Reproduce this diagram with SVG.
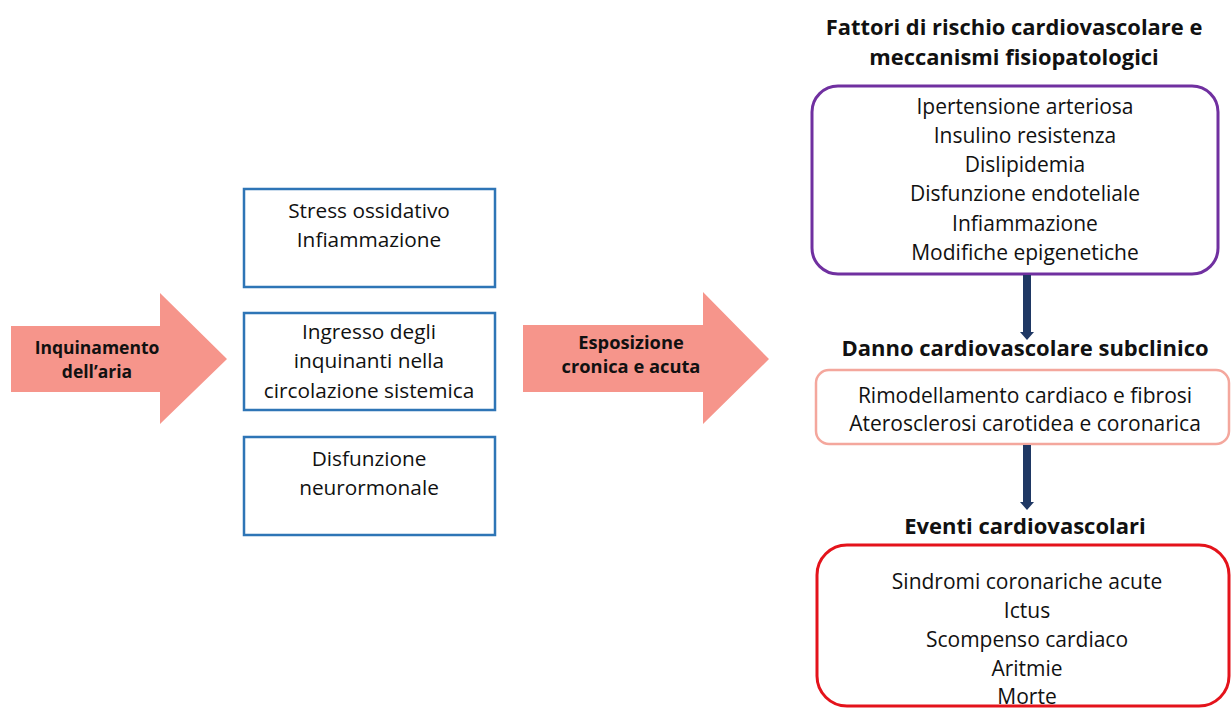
<svg xmlns="http://www.w3.org/2000/svg" width="1231" height="710" viewBox="0 0 1231 710">
<style>
text{font-family:"Open Sans","Noto Sans",sans-serif;fill:#111;text-anchor:middle}
.t{font-size:20.8px}
.tr{font-size:21px}
.b{font-weight:bold}
.bigarrow{fill:#F6958B}
.blue{fill:#fff;stroke:#2E75B6;stroke-width:2.5}
.conn{stroke:#1F3864;stroke-width:8;fill:none}
.head{fill:#1F3864}
</style>
<rect width="1231" height="710" fill="#fff"/>
<g id="arrow-inquinamento">
<polygon class="bigarrow" points="11,326 160,326 160,293 227,359 160,424 160,392 11,392"/>
<text class="b" x="97" y="354" font-size="17.5">Inquinamento</text>
<text class="b" x="97" y="378" font-size="17.5">dell’aria</text>
</g>
<g id="box-stress">
<rect class="blue" x="244" y="189" width="251" height="98"/>
<text class="t" x="369" y="218">Stress ossidativo</text>
<text class="t" x="369" y="247">Infiammazione</text>
</g>
<g id="box-ingresso">
<rect class="blue" x="244" y="313" width="251" height="97"/>
<text class="t" x="369" y="339">Ingresso degli</text>
<text class="t" x="369" y="368">inquinanti nella</text>
<text class="t" x="369" y="398">circolazione sistemica</text>
</g>
<g id="box-disfunzione">
<rect class="blue" x="244" y="437" width="251" height="98"/>
<text class="t" x="369" y="466">Disfunzione</text>
<text class="t" x="369" y="495">neurormonale</text>
</g>
<g id="arrow-esposizione">
<polygon class="bigarrow" points="523,325 703,325 703,292 769,359 703,424 703,392 523,392"/>
<text class="b" x="631" y="349" font-size="18.3">Esposizione</text>
<text class="b" x="631" y="373" font-size="18.3">cronica e acuta</text>
</g>
<g id="fattori">
<text class="b" x="1014" y="35" font-size="21.9">Fattori di rischio cardiovascolare e</text>
<text class="b" x="1014" y="65" font-size="21.9">meccanismi fisiopatologici</text>
<rect x="812" y="86" width="406" height="188" rx="26" fill="#fff" stroke="#7030A0" stroke-width="3"/>
<text class="tr" x="1025" y="114">Ipertensione arteriosa</text>
<text class="tr" x="1025" y="143">Insulino resistenza</text>
<text class="tr" x="1025" y="172">Dislipidemia</text>
<text class="tr" x="1025" y="201">Disfunzione endoteliale</text>
<text class="tr" x="1025" y="231">Infiammazione</text>
<text class="tr" x="1025" y="260">Modifiche epigenetiche</text>
</g>
<g id="danno">
<text class="b" x="1025" y="356" font-size="22">Danno cardiovascolare subclinico</text>
<rect x="816" y="370" width="413" height="74" rx="13" fill="#fff" stroke="#F4A79D" stroke-width="2.5"/>
<text class="tr" x="1025" y="403">Rimodellamento cardiaco e fibrosi</text>
<text class="tr" x="1025" y="431">Aterosclerosi carotidea e coronarica</text>
</g>
<g id="eventi">
<text class="b" x="1025" y="534" font-size="22">Eventi cardiovascolari</text>
<rect x="817" y="545" width="412" height="161" rx="30" fill="#fff" stroke="#E4131B" stroke-width="3"/>
<text class="tr" x="1027" y="589">Sindromi coronariche acute</text>
<text class="tr" x="1027" y="618">Ictus</text>
<text class="tr" x="1027" y="647">Scompenso cardiaco</text>
<text class="tr" x="1027" y="676">Aritmie</text>
<text class="tr" x="1027" y="704">Morte</text>
</g>
<g id="connectors">
<line class="conn" x1="1027" y1="275" x2="1027" y2="333"/>
<polygon class="head" points="1020,332 1034,332 1027,340"/>
<line class="conn" x1="1027" y1="445" x2="1027" y2="503"/>
<polygon class="head" points="1020,502 1034,502 1027,510"/>
</g>
</svg>
